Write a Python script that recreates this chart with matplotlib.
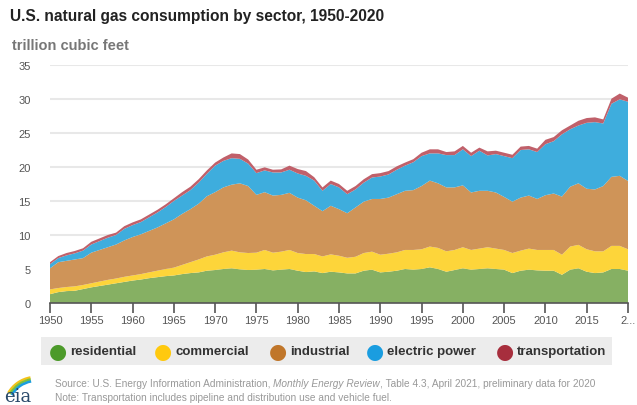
import numpy as np
import matplotlib
matplotlib.use('Agg')
import matplotlib.pyplot as plt
from matplotlib.patches import FancyBboxPatch, Arc

plt.rcParams['font.family'] = ['Liberation Sans', 'DejaVu Sans']

years = np.arange(1950, 2021)

residential = [1.3, 1.6, 1.75, 1.8, 2.05, 2.3, 2.5, 2.7, 2.9, 3.1,
               3.3, 3.45, 3.65, 3.8, 3.95, 4.05, 4.25, 4.4, 4.5, 4.75,
               4.85, 5.0, 5.1, 4.95, 4.85, 4.9, 5.0, 4.8, 4.9, 5.0,
               4.75, 4.55, 4.65, 4.4, 4.6, 4.5, 4.35, 4.35, 4.75, 4.9,
               4.5, 4.6, 4.75, 5.0, 4.9, 5.0, 5.25, 5.0, 4.6, 4.85,
               5.1, 4.9, 5.0, 5.1, 5.0, 4.9, 4.4, 4.75, 4.9, 4.8,
               4.75, 4.75, 4.15, 4.9, 5.1, 4.6, 4.4, 4.5, 5.0, 5.0,
               4.75]
commercial = [0.7, 0.6, 0.6, 0.65, 0.6, 0.6, 0.65, 0.7, 0.7, 0.75,
              0.75, 0.8, 0.85, 0.95, 1.05, 1.15, 1.35, 1.6, 1.9, 2.1,
              2.25, 2.45, 2.6, 2.5, 2.5, 2.5, 2.8, 2.6, 2.65, 2.8,
              2.6, 2.65, 2.55, 2.45, 2.55, 2.45, 2.3, 2.45, 2.6, 2.65,
              2.6, 2.65, 2.7, 2.8, 2.9, 2.9, 3.05, 3.1, 3.0, 2.95,
              3.1, 2.9, 3.0, 3.1, 3.0, 2.9, 2.95, 2.95, 3.1, 3.0,
              3.05, 3.05, 2.95, 3.4, 3.45, 3.3, 3.2, 3.1, 3.4, 3.4,
              3.15]
industrial = [3.1, 3.8, 3.85, 3.95, 3.95, 4.5, 4.65, 4.8, 5.0, 5.35,
              5.65, 5.85, 6.1, 6.35, 6.7, 7.1, 7.5, 7.8, 8.2, 8.85,
              9.2, 9.55, 9.7, 10.15, 9.85, 8.5, 8.5, 8.4, 8.35, 8.4,
              8.15, 7.9, 7.1, 6.65, 7.15, 6.85, 6.55, 7.25, 7.55, 7.75,
              8.2, 8.25, 8.55, 8.7, 8.8, 9.3, 9.7, 9.5, 9.4, 9.2,
              9.1, 8.45, 8.5, 8.3, 8.25, 7.8, 7.55, 7.8, 7.8, 7.5,
              8.05, 8.3, 8.55, 8.8, 9.05, 8.9, 9.1, 9.6, 10.15, 10.3,
              10.05]
electric_power = [0.6, 0.6, 0.8, 0.9, 1.1, 1.2, 1.3, 1.4, 1.4, 1.7,
                  1.75, 1.8, 2.0, 2.2, 2.4, 2.7, 2.7, 2.8, 3.1, 3.3,
                  3.9, 3.9, 3.9, 3.6, 3.3, 3.2, 3.2, 3.4, 3.3, 3.4,
                  3.55, 3.6, 3.7, 3.0, 3.2, 3.2, 2.8, 2.65, 2.8, 3.15,
                  3.3, 3.4, 3.6, 3.7, 4.1, 4.4, 4.0, 4.4, 4.75, 4.75,
                  5.3, 5.35, 5.9, 5.2, 5.65, 6.0, 6.4, 7.0, 6.8, 6.9,
                  7.5, 7.7, 9.15, 8.45, 8.5, 9.7, 9.9, 9.2, 10.75, 11.25,
                  11.65]
transportation = [0.3, 0.3, 0.35, 0.35, 0.35, 0.4, 0.4, 0.4, 0.35, 0.4,
                  0.4, 0.4, 0.4, 0.4, 0.4, 0.4, 0.5, 0.5, 0.5, 0.5,
                  0.45, 0.5, 0.7, 0.7, 0.6, 0.5, 0.45, 0.4, 0.45, 0.6,
                  0.65, 0.7, 0.5, 0.5, 0.5, 0.5, 0.5, 0.5, 0.5, 0.5,
                  0.5, 0.5, 0.5, 0.45, 0.45, 0.5, 0.6, 0.6, 0.45, 0.55,
                  0.5, 0.5, 0.45, 0.6, 0.5, 0.5, 0.5, 0.5, 0.5, 0.5,
                  0.65, 0.6, 0.6, 0.55, 0.7, 0.7, 0.7, 0.6, 0.75, 0.85,
                  0.6]

labels = ['residential', 'commercial', 'industrial', 'electric power', 'transportation']
fill_colors = ['#86b063', '#fdd53a', '#cf9458', '#3eaddd', '#c0606a']
dot_colors = ['#4c9a2a', '#ffc90e', '#c0762a', '#1a9de0', '#a72e3d']

xticks = list(range(1950, 2020, 5)) + [2020]
xticklabels = [str(y) for y in range(1950, 2020, 5)] + ['2...']

fig = plt.figure(figsize=(6.37, 4.06), dpi=100)
ax = fig.add_axes([50 / 637, 1 - 304 / 406, 578 / 637, 238 / 406])

ax.stackplot(years, residential, commercial, industrial, electric_power, transportation,
             colors=fill_colors, linewidth=0, zorder=2)

ax.set_xlim(1950, 2020)
ax.set_ylim(0, 35)
ax.set_yticks(range(0, 36, 5))
ax.yaxis.grid(color='#e8e8e8', linewidth=1.5, zorder=0)
ax.set_axisbelow(True)
ax.set_xticks(xticks)
ax.set_xticklabels(xticklabels)
for s in ['top', 'right', 'left']:
    ax.spines[s].set_visible(False)
ax.spines['bottom'].set_color('#555555')
ax.spines['bottom'].set_linewidth(1.2)
ax.tick_params(axis='x', length=7, width=1.2, color='#555555', labelsize=8, labelcolor='#555555', pad=2)
ax.tick_params(axis='y', length=0, labelsize=8, labelcolor='#555555', pad=14)

fig.text(10 / 637, 1 - 17 / 406, 'U.S. natural gas consumption by sector, 1950-2020',
         fontsize=11.2, fontweight='bold', color='#222222', va='center', ha='left')
fig.text(12 / 637, 1 - 46 / 406, 'trillion cubic feet', fontsize=10.5, fontweight='bold',
         color='#777777', va='center', ha='left')

# legend strip
fig.patches.append(FancyBboxPatch((41 / 637, 1 - 366 / 406), 571 / 637, 28 / 406,
                                  boxstyle='square,pad=0', transform=fig.transFigure,
                                  facecolor='#ececec', edgecolor='none'))
dot_x = [58, 163, 278, 375, 505]
for x, lab, c in zip(dot_x, labels, dot_colors):
    fig.text(x / 637, 1 - 352 / 406, '\u25cf', color=c, fontsize=15, ha='center', va='center',
             family='DejaVu Sans')
    fig.text((x + 12) / 637, 1 - 352 / 406, lab, color='#333333', fontsize=9.5,
             fontweight='bold', ha='left', va='center')

# source / note
fs = 7.3
t1 = fig.text(55 / 637, 1 - 384 / 406, 'Source: U.S. Energy Information Administration, ',
              fontsize=fs, color='#999999', va='center', ha='left')
fig.canvas.draw()
bb = t1.get_window_extent()
t2 = fig.text(bb.x1 / 637, 1 - 384 / 406, 'Monthly Energy Review', fontsize=fs,
              color='#999999', style='italic', va='center', ha='left')
fig.canvas.draw()
bb2 = t2.get_window_extent()
fig.text(bb2.x1 / 637, 1 - 384 / 406, ', Table 4.3, April 2021, preliminary data for 2020',
         fontsize=fs, color='#999999', va='center', ha='left')
fig.text(55 / 637, 1 - 398 / 406, 'Note: Transportation includes pipeline and distribution use and vehicle fuel.',
         fontsize=fs, color='#999999', va='center', ha='left')

# eia logo
lax = fig.add_axes([2 / 637, 1 - 404 / 406, 46 / 637, 34 / 406])
lax.set_xlim(0, 46)
lax.set_ylim(0, 34)
lax.axis('off')
lax.text(16, 7, 'eia', family='DejaVu Serif', fontsize=13, color='#2a4a6b', ha='center', va='center')
for r, c in zip([32, 30, 28], ['#f3c318', '#7cbf3f', '#1a9de0']):
    lax.add_patch(Arc((34, -6), 2 * r, 2 * r, theta1=100, theta2=150, color=c, linewidth=1.8))

fig.savefig('out.png', dpi=100)
